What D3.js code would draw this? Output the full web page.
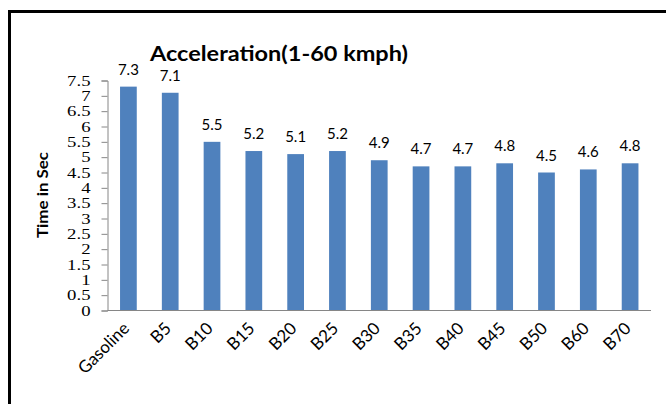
<!DOCTYPE html>
<html>
<head>
<meta charset="utf-8">
<script src="https://cdn.jsdelivr.net/npm/d3@7"></script>
<style>
  html, body { margin: 0; padding: 0; background: #fff; }
  svg { display: block; }
</style>
</head>
<body>
<svg id="chart" width="666" height="405"></svg>
<script>
// Acceleration time per fuel blend
const categories = ["Gasoline", "B5", "B10", "B15", "B20", "B25", "B30", "B35", "B40", "B45", "B50", "B60", "B70"];
const values = [7.3, 7.1, 5.5, 5.2, 5.1, 5.2, 4.9, 4.7, 4.7, 4.8, 4.5, 4.6, 4.8];
const yTicks = [0, 0.5, 1, 1.5, 2, 2.5, 3, 3.5, 4, 4.5, 5, 5.5, 6, 6.5, 7, 7.5];
const chartTitle = "Acceleration(1-60 kmph)";
const yTitle = "Time in Sec";

const svg = d3.select("#chart");
const W = 666, H = 405;
const plot = { left: 107.5, right: 651, top: 80.5, bottom: 310.5 };
const sans = "Lato, 'Liberation Sans', sans-serif";

svg.append("rect").attr("width", W).attr("height", H).attr("fill", "#fff");

// outer frame (top and left edges)
svg.append("path")
  .attr("d", `M9.5,404 V11.5 H666`)
  .attr("fill", "none").attr("stroke", "#000").attr("stroke-width", 3);

const x = d3.scaleBand().domain(categories).range([plot.left, plot.right]).paddingInner(0.6).paddingOuter(0.3);
const y = d3.scaleLinear().domain([0, 7.5]).range([plot.bottom, plot.top]);

// bars
svg.append("g").selectAll("rect").data(values).join("rect")
  .attr("x", (d, i) => x(categories[i]))
  .attr("y", d => y(d))
  .attr("width", x.bandwidth())
  .attr("height", d => y(0) - y(d))
  .attr("fill", "#4F81BD");

// value labels
svg.append("g").selectAll("text").data(values).join("text")
  .attr("x", (d, i) => x(categories[i]) + x.bandwidth() / 2)
  .attr("y", d => y(d) - 12)
  .attr("text-anchor", "middle")
  .attr("font-family", sans)
  .attr("font-size", 15)
  .attr("fill", "#000")
  .text(d => d.toFixed(1));

// y axis
const yAxis = d3.axisLeft(y).tickValues(yTicks).tickSize(6).tickPadding(0).tickFormat(d3.format("~g"));
const gy = svg.append("g").attr("transform", `translate(${plot.left},0)`).call(yAxis);
gy.select(".domain").attr("stroke", "#868686");
gy.selectAll(".tick line").attr("stroke", "#868686");
gy.selectAll(".tick text")
  .attr("x", -17 / 1.25)
  .attr("transform", "scale(1.25,1)")
  .attr("font-family", "'Liberation Serif', 'Times New Roman', serif")
  .attr("font-size", 15)
  .attr("fill", "#000");

// x axis
const xAxis = d3.axisBottom(x).tickSize(0).tickPadding(0);
const gx = svg.append("g").attr("transform", `translate(0,${plot.bottom})`).call(xAxis);
gx.select(".domain").attr("stroke", "#868686").attr("d", `M${plot.left},0H${plot.right}`);
gx.selectAll(".tick text")
  .attr("font-family", sans)
  .attr("font-size", 17)
  .attr("fill", "#000")
  .attr("text-anchor", "end")
  .attr("y", 0)
  .attr("dy", 0)
  .attr("transform", "translate(2,19) rotate(-45)");

// title
svg.append("text")
  .attr("x", 279).attr("y", 61)
  .attr("text-anchor", "middle")
  .attr("font-family", sans)
  .attr("font-weight", "bold")
  .attr("font-size", 21)
  .attr("textLength", 258)
  .attr("lengthAdjust", "spacingAndGlyphs")
  .attr("fill", "#000")
  .text(chartTitle);

// y axis title
svg.append("text")
  .attr("transform", `translate(48,195) rotate(-90)`)
  .attr("text-anchor", "middle")
  .attr("font-family", sans)
  .attr("font-weight", "bold")
  .attr("font-size", 15)
  .attr("textLength", 86)
  .attr("lengthAdjust", "spacingAndGlyphs")
  .attr("fill", "#000")
  .text(yTitle);
</script>
</body>
</html>
